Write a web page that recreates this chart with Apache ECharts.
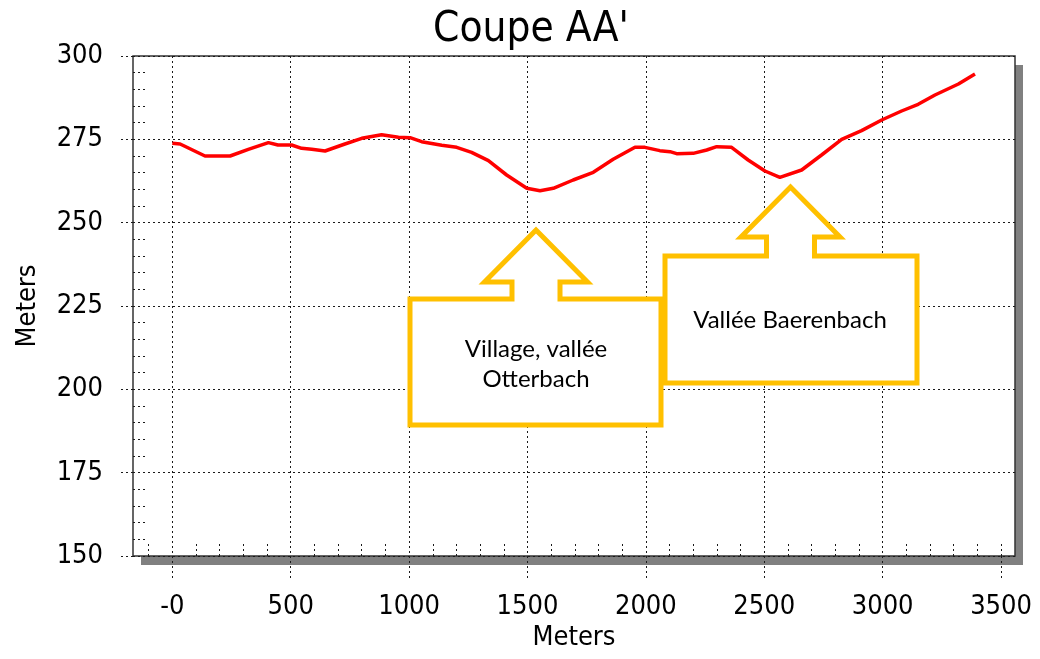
<!DOCTYPE html>
<html>
<head>
<meta charset="utf-8">
<title>Coupe AA'</title>
<script src="https://cdn.jsdelivr.net/npm/echarts@6/dist/echarts.min.js"></script>
<style>
  html, body { margin: 0; padding: 0; background: #fff; }
  #chart { width: 1040px; height: 659px; }
</style>
</head>
<body>
<div id="chart"></div>
<script>
// Elevation profile along section AA' (distance in metres, elevation in metres)
const distance = [0, 33, 138, 244, 321, 406, 446, 504, 546, 589, 645, 729, 800, 884, 955,
  1004, 1053, 1138, 1201, 1264, 1335, 1412, 1497, 1553, 1609, 1693, 1778, 1862, 1954, 1996,
  2059, 2102, 2130, 2200, 2257, 2299, 2362, 2432, 2503, 2566, 2658, 2742, 2827, 2911, 2996,
  3080, 3150, 3221, 3320, 3390];
const elevation = [273.8, 273.6, 270.0, 270.0, 272.0, 274.0, 273.3, 273.3, 272.3, 272.0, 271.5,
  273.6, 275.3, 276.4, 275.6, 275.5, 274.3, 273.2, 272.6, 271.1, 268.6, 264.3, 260.3, 259.6,
  260.3, 262.8, 265.1, 269.0, 272.6, 272.6, 271.6, 271.3, 270.7, 270.8, 271.8, 272.8, 272.6,
  268.8, 265.5, 263.6, 265.8, 270.3, 275.0, 277.6, 280.8, 283.5, 285.5, 288.3, 291.6, 294.6];

// Axis ranges and ticks
const xRange = [-166, 3559];
const yRange = [150, 300];
const xMajorTicks = [0, 500, 1000, 1500, 2000, 2500, 3000, 3500];
const xTickLabels = ['-0', '500', '1000', '1500', '2000', '2500', '3000', '3500'];
const xGridLines = [0, 500, 1000, 1500, 2000, 2500, 3000];
const xMinorTicks = [-100, 100, 200, 300, 400, 600, 700, 800, 900, 1100, 1200, 1300, 1400,
  1600, 1700, 1800, 1900, 2100, 2200, 2300, 2400, 2600, 2700, 2800, 2900, 3100, 3200, 3300,
  3400, 3500];
const yMajorStep = 25;
const yMinorStep = 5;

// Texts
const titleText = "Coupe AA'";
const axisName = 'Meters';
const calloutVillage = ['Village, vallée', 'Otterbach'];
const calloutBaeren = 'Vallée Baerenbach';

const FONT = "'DejaVu Sans Condensed', 'DejaVu Sans', sans-serif";
const dotted = { color: '#1a1a1a', width: 1, type: [2, 3] };
const gridBox = { left: 133, right: 25, top: 56, bottom: 103 };

const chart = echarts.init(document.getElementById('chart'), null, { renderer: 'canvas' });

// Up-pointing arrow callout outline: box with an arrow on top
function arrowCallout(tipX, tipY, headHalf, headH, shaftHalf, boxL, boxR, boxT, boxB) {
  const cx = tipX;
  const baseY = tipY + headH;
  return [
    [boxL, boxT], [cx - shaftHalf, boxT], [cx - shaftHalf, baseY], [cx - headHalf, baseY],
    [cx, tipY], [cx + headHalf, baseY], [cx + shaftHalf, baseY], [cx + shaftHalf, boxT],
    [boxR, boxT], [boxR, boxB], [boxL, boxB]
  ];
}
const calloutStyle = { fill: '#fff', stroke: '#FFC000', lineWidth: 5, lineJoin: 'miter' };
const calloutFont = { fontFamily: 'Lato', fontSize: 24, fill: '#000', align: 'center', verticalAlign: 'middle' };

const noZeroLine = { show: false, onZero: false };

const option = {
  animation: false,
  backgroundColor: '#fff',
  title: {
    text: titleText,
    left: 428,
    top: 4,
    textStyle: { fontFamily: FONT, fontSize: 42, fontWeight: 'normal', color: '#000' }
  },
  grid: [
    // plot background with its drop shadow
    Object.assign({
      show: true, backgroundColor: '#fff', borderWidth: 0,
      shadowColor: '#808080', shadowBlur: 0, shadowOffsetX: 8, shadowOffsetY: 9
    }, gridBox),
    // plot frame
    Object.assign({
      show: true, backgroundColor: 'transparent', borderColor: '#333', borderWidth: 1.5
    }, gridBox),
    Object.assign({}, gridBox)
  ],
  xAxis: [
    {
      gridIndex: 0, type: 'value', position: 'bottom', min: xRange[0], max: xRange[1],
      axisLine: noZeroLine,
      axisTick: { show: true, inside: false, length: 22, customValues: xMajorTicks, lineStyle: dotted },
      axisLabel: {
        customValues: xMajorTicks, margin: 37, color: '#000', fontFamily: FONT, fontSize: 27,
        formatter: v => xTickLabels[xMajorTicks.indexOf(v)] ?? String(v)
      },
      splitLine: { show: false },
      name: axisName, nameLocation: 'middle', nameGap: 68,
      nameTextStyle: { fontFamily: FONT, fontSize: 27, color: '#000' }
    },
    {
      gridIndex: 1, type: 'value', position: 'bottom', min: xRange[0], max: xRange[1],
      axisLine: noZeroLine,
      axisTick: { show: false, customValues: xGridLines },
      axisLabel: { show: false },
      splitLine: { show: true, showMinLine: true, showMaxLine: true, lineStyle: dotted }
    },
    {
      gridIndex: 2, type: 'value', position: 'bottom', min: xRange[0], max: xRange[1],
      axisLine: noZeroLine,
      axisTick: { show: true, inside: true, length: 15, customValues: xMinorTicks, lineStyle: dotted },
      axisLabel: { show: false },
      splitLine: { show: false }
    }
  ],
  yAxis: [
    {
      gridIndex: 0, type: 'value', position: 'left', min: yRange[0], max: yRange[1], interval: yMajorStep,
      axisLine: noZeroLine,
      axisTick: { show: true, inside: false, length: 13, lineStyle: dotted },
      axisLabel: { margin: 30, color: '#000', fontFamily: FONT, fontSize: 27 },
      splitLine: { show: true, lineStyle: dotted },
      name: axisName, nameLocation: 'middle', nameGap: 92,
      nameTextStyle: { fontFamily: FONT, fontSize: 27, color: '#000' }
    },
    {
      gridIndex: 1, type: 'value', position: 'left', min: yRange[0], max: yRange[1], interval: yMinorStep,
      axisLine: noZeroLine,
      axisTick: { show: true, inside: true, length: 13, lineStyle: dotted },
      axisLabel: { show: false },
      splitLine: { show: false }
    },
    {
      gridIndex: 2, type: 'value', position: 'left', min: yRange[0], max: yRange[1],
      axisLine: noZeroLine,
      show: false
    }
  ],
  series: [
    {
      type: 'line',
      name: titleText,
      xAxisIndex: 0, yAxisIndex: 0,
      data: distance.map((d, i) => [d, elevation[i]]),
      showSymbol: false,
      symbol: 'none',
      lineStyle: { color: '#ff0000', width: 3.5 },
      z: 5
    }
  ],
  graphic: [
    {
      type: 'polygon', z: 100,
      shape: { points: arrowCallout(536, 230, 51.5, 52, 24, 410, 661, 299, 425) },
      style: calloutStyle
    },
    {
      type: 'polygon', z: 101,
      shape: { points: arrowCallout(790.5, 187, 49.5, 50, 24, 665, 917, 256, 383) },
      style: calloutStyle
    },
    { type: 'text', z: 102, x: 536, y: 349, style: Object.assign({ text: calloutVillage[0] }, calloutFont) },
    { type: 'text', z: 102, x: 536, y: 379, style: Object.assign({ text: calloutVillage[1] }, calloutFont) },
    { type: 'text', z: 102, x: 790, y: 320, style: Object.assign({ text: calloutBaeren }, calloutFont) }
  ]
};

chart.setOption(option);
</script>
</body>
</html>
